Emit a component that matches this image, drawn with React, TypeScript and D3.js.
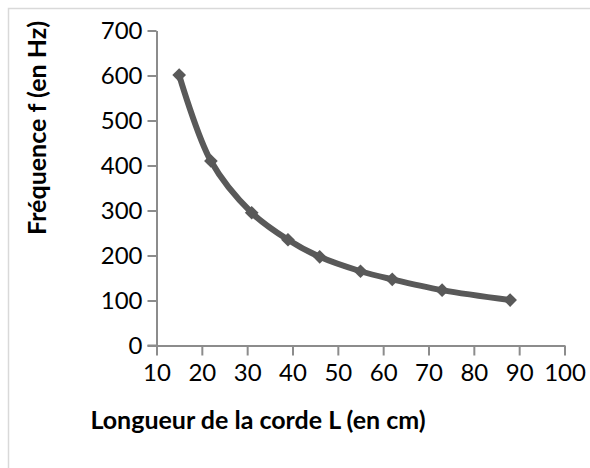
import { useRef, useEffect } from 'react';
import * as d3 from 'd3';

// Longueur de la corde L (cm) vs fréquence f (Hz)
const longueurs = [15, 22, 31, 39, 46, 55, 62, 73, 88];
const frequences = [601, 410, 295, 235, 197, 165, 147, 123, 101];
const xTicks = [10, 20, 30, 40, 50, 60, 70, 80, 90, 100];
const yTicks = [0, 100, 200, 300, 400, 500, 600, 700];

const W = 590;
const H = 468;

export default function App() {
  const svgRef = useRef<SVGSVGElement>(null);

  useEffect(() => {
    if (!svgRef.current) return;
    const svg = d3.select(svgRef.current);
    svg.selectAll('*').remove();

    const axisColor = '#8c8c8c';
    const lineColor = '#595959';
    const font = 'Lato, "DejaVu Sans", sans-serif';

    // chart area border
    svg.append('rect')
      .attr('x', 8.5).attr('y', 8.5)
      .attr('width', 600).attr('height', 500)
      .attr('fill', '#fff')
      .attr('stroke', '#d9d9d9')
      .attr('stroke-width', 1.5);

    const x = d3.scaleLinear().domain([10, 100]).range([156.5, 564.5]);
    const y = d3.scaleLinear().domain([0, 700]).range([345.5, 30.5]);

    const g = svg.append('g');

    // y axis
    const yAxis = d3.axisLeft(y).tickValues(yTicks).tickSize(9).tickPadding(5).tickSizeOuter(0);
    const yg = g.append('g').attr('transform', `translate(${x(10)},0)`).call(yAxis);
    yg.selectAll('text')
      .style('font-family', font)
      .style('font-size', '24px')
      .style('fill', '#000');

    // x axis
    const xAxis = d3.axisBottom(x).tickValues(xTicks).tickSize(10).tickPadding(8).tickSizeOuter(0);
    const xg = g.append('g').attr('transform', `translate(0,${y(0)})`).call(xAxis);
    xg.selectAll('text')
      .style('font-family', font)
      .style('font-size', '24px')
      .style('fill', '#000');

    g.selectAll('.domain').attr('stroke', axisColor).attr('stroke-width', 2);
    g.selectAll('.tick line').attr('stroke', axisColor).attr('stroke-width', 2);

    // extend x axis to the left under the y tick
    g.append('line')
      .attr('x1', x(10) - 9).attr('x2', x(10))
      .attr('y1', y(0)).attr('y2', y(0))
      .attr('stroke', axisColor).attr('stroke-width', 2);

    const pts: [number, number][] = longueurs.map((l, i) => [x(l), y(frequences[i])]);

    const line = d3.line().curve(d3.curveCatmullRom.alpha(0.5));
    g.append('path')
      .attr('d', line(pts))
      .attr('fill', 'none')
      .attr('stroke', lineColor)
      .attr('stroke-width', 6)
      .attr('stroke-linejoin', 'round');

    const diamond = d3.symbol().type(d3.symbolDiamond2).size(120);
    g.selectAll('path.pt')
      .data(pts)
      .join('path')
      .attr('class', 'pt')
      .attr('d', diamond())
      .attr('transform', (d) => `translate(${d[0]},${d[1]})`)
      .attr('fill', lineColor);

    // axis titles
    svg.append('text')
      .attr('x', 258).attr('y', 429)
      .attr('text-anchor', 'middle')
      .style('font-family', font)
      .style('font-weight', 'bold')
      .style('font-size', '25px')
      .style('fill', '#000')
      .text('Longueur de la corde L (en cm)');

    svg.append('text')
      .attr('transform', 'translate(46,128) rotate(-90)')
      .attr('text-anchor', 'middle')
      .style('font-family', font)
      .style('font-weight', 'bold')
      .style('font-size', '25px')
      .style('fill', '#000')
      .text('Fréquence f (en Hz)');
  }, []);

  return (
    <svg
      ref={svgRef}
      width={W}
      height={H}
      style={{ position: 'absolute', left: 0, top: 0, background: '#fff' }}
    />
  );
}
